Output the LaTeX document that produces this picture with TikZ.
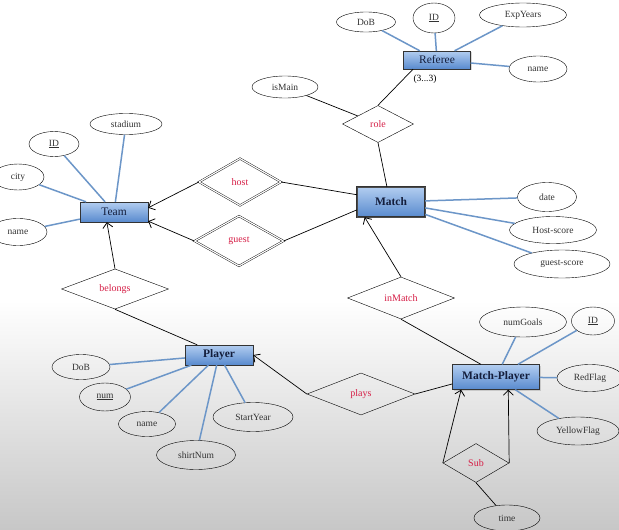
\documentclass[tikz,border=0pt]{standalone}
\usepackage{fontspec}
\setmainfont{Liberation Serif}
\usetikzlibrary{shapes.geometric,arrows.meta,shadows}

\definecolor{linkblue}{RGB}{108,150,200}
\definecolor{relred}{RGB}{214,30,70}
\definecolor{boxtop}{RGB}{178,205,240}
\definecolor{boxbot}{RGB}{88,138,206}
\definecolor{boxtext}{RGB}{20,30,60}

\tikzset{
  wh/.style 2 args={minimum width=#1,minimum height=#2},
  entity/.style={rectangle,draw=black!80,top color=boxtop,bottom color=boxbot,
    text=boxtext,inner sep=0pt,font=\fontsize{11.5}{13}\selectfont,
    drop shadow={opacity=.3,shadow xshift=1pt,shadow yshift=-1pt}},
  attr/.style={ellipse,draw,inner sep=0pt,text=black!80,font=\fontsize{9.5}{11}\selectfont},
  rel/.style={diamond,draw,inner sep=0pt,text=relred,font=\fontsize{10}{12}\selectfont},
  weakrel/.style={rel,double,double distance=1.2pt},
  attrline/.style={draw=linkblue,line width=1.5pt},
  link/.style={draw,line width=.7pt},
  arr/.style={link,-{Straight Barb[length=5pt,width=10pt,line width=.8pt]}}
}

\begin{document}
\begin{tikzpicture}[x=1pt,y=-1pt]
  \useasboundingbox (0,0) rectangle (619,530);
  \fill[white] (0,0) rectangle (619,300);
  \shade[top color=white,bottom color=black!22] (0,300) rectangle (619,530);

  % referee
  \node[entity,wh={67}{18}] (referee) at (437,60) {Referee};
  \node[attr,wh={59}{20}] (rdob) at (366,22) {DoB};
  \node[attr,wh={42}{30}] (rid) at (434,18) {\underline{ID}};
  \node[attr,wh={87}{24}] (rexp) at (523,15) {ExpYears};
  \node[attr,wh={58}{26}] (rname) at (538,69) {name};
  \node[font=\fontsize{9.5}{11}\selectfont,inner sep=0pt] (card) at (425,79) {(3...3)};
  \node[attr,wh={66}{22}] (ismain) at (285,87) {isMain};
  \node[rel,wh={71}{37}] (role) at (378,124) {role};

  % match
  \node[entity,wh={68}{30},double=black!70,double distance=.8pt,font=\fontsize{11.5}{13}\selectfont\bfseries] (match) at (391,202) {Match};
  \node[attr,wh={59}{29}] (mdate) at (547,197) {date};
  \node[attr,wh={87}{27}] (mhost) at (553,230) {Host-score};
  \node[attr,wh={96}{28}] (mguest) at (562,264) {guest-score};
  \node[rel,wh={107}{42}] (inmatch) at (401,298) {inMatch};

  % team
  \node[entity,wh={68}{20}] (team) at (114,212) {Team};
  \node[attr,wh={50}{25}] (tid) at (54,144) {\underline{ID}};
  \node[attr,wh={72}{21}] (tstadium) at (126,124) {stadium};
  \node[attr,wh={52}{26}] (tcity) at (18,177) {city};
  \node[attr,wh={58}{27}] (tname) at (18,232) {name};
  \node[weakrel,wh={82}{47}] (host) at (240,182) {host};
  \node[weakrel,wh={89}{50}] (guest) at (239,241) {guest};
  \node[rel,wh={107}{40}] (belongs) at (115,289) {belongs};

  % player
  \node[entity,wh={68}{20},font=\fontsize{11.5}{13}\selectfont\bfseries] (player) at (219,355) {Player};
  \node[attr,wh={58}{25}] (pdob) at (81,367) {DoB};
  \node[attr,wh={51}{28}] (pnum) at (105,397) {\underline{num}};
  \node[attr,wh={57}{25}] (pname) at (147,424) {name};
  \node[attr,wh={79}{29}] (pshirt) at (196,455) {shirtNum};
  \node[attr,wh={80}{29}] (pstart) at (253,417) {StartYear};
  \node[rel,wh={108}{42}] (plays) at (361,394) {plays};

  % match-player
  \node[entity,wh={87}{25},font=\fontsize{11.5}{13}\selectfont\bfseries] (mp) at (496,377) {Match-Player};
  \node[attr,wh={87}{30}] (mpgoals) at (523,322) {numGoals};
  \node[attr,wh={43}{28}] (mpid) at (593,321) {\underline{ID}};
  \node[attr,wh={66}{27}] (mpred) at (590,378) {RedFlag};
  \node[attr,wh={82}{28}] (mpyellow) at (578,431) {YellowFlag};
  \node[rel,wh={66}{39}] (sub) at (476,463) {Sub};
  \node[attr,wh={66}{26}] (time) at (507,518) {time};

  % attribute lines
  \foreach \a in {rdob,rid,rexp,rname}
    \draw[attrline] (\a) -- (referee);
  \foreach \a in {mdate,mhost,mguest}
    \draw[attrline] (\a) -- (match);
  \foreach \a in {tid,tstadium,tcity,tname}
    \draw[attrline] (\a) -- (team);
  \foreach \a in {pdob,pnum,pname,pshirt,pstart}
    \draw[attrline] (\a) -- (player);
  \foreach \a in {mpgoals,mpid,mpred,mpyellow}
    \draw[attrline] (\a) -- (mp);

  % relationships
  \draw[link] (referee.-159) -- (role.north);
  \draw[link] (ismain) -- (role);
  \draw[link] (role.south) -- (match.105);
  \draw[link] (host.east) -- (match.168);
  \draw[link] (guest.east) -- (match.-167);
  \draw[arr] (host.west) -- (team.7);
  \draw[arr] (guest.west) -- (team.-15);
  \draw[arr] (belongs.north) -- (team.-125);
  \draw[link] (belongs.south) -- (player.155);
  \draw[arr] (inmatch.north) -- (match.-150);
  \draw[link] (inmatch.south) -- (mp.140);
  \draw[arr] (plays.west) -- (player.east);
  \draw[link] (plays.east) -- (mp.-171);
  \draw[arr] (sub.west) -- (mp.-160);
  \draw[arr] (sub.east) -- (mp.-46);
  \draw[link] (sub.south) -- (time);
\end{tikzpicture}
\end{document}
